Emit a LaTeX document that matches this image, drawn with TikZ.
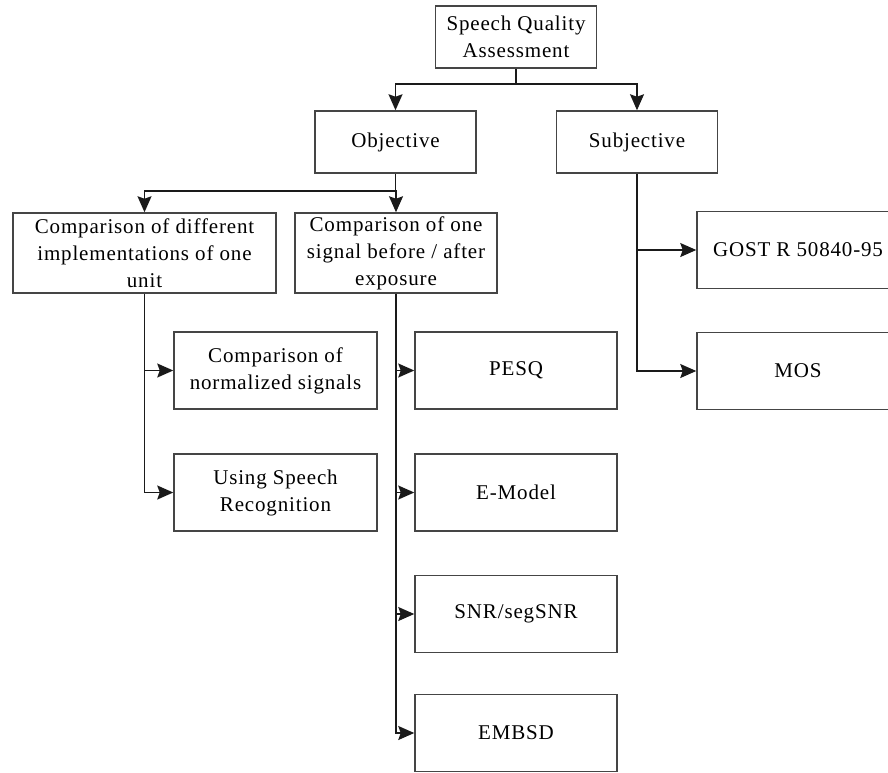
\documentclass[tikz,border=0pt]{standalone}
\usepackage{fontspec}
\setmainfont[LetterSpace=4]{Liberation Serif}
\usepackage{tikz}
\usepackage{xcolor}
\usetikzlibrary{arrows.meta}

\definecolor{boxEdge}{HTML}{454545}
\definecolor{linkLine}{HTML}{1A1A1A}

\begin{document}
\begin{tikzpicture}
[
x=1pt, y=-1pt,
every node/.style={
	draw=boxEdge,
	line width=1.5pt,
	rectangle,
	align=center,
	inner sep=0pt,
	text=black,
	font=\fontsize{21}{27}\selectfont},
topBox/.style={
	minimum width=161pt,
	minimum height=62pt},
midBox/.style={
	minimum height=80pt},
leafBox/.style={
	minimum width=202pt,
	minimum height=77pt},
regLine/.style={
	draw=linkLine,
	line width=1.5pt},
regArr/.style={
	regLine,
	-{Stealth[length=16pt,width=14pt,inset=2.5pt]}}
]
\useasboundingbox (0,0) rectangle (888,772);

%top levels
\node[topBox] (sqa) at (516,37) {Speech Quality\\Assessment};
\node[topBox] (obj) at (395.5,142) {Objective};
\node[topBox] (subj) at (637,142) {Subjective};

%objective kinds
\node[midBox, minimum width=263pt] (cdi) at (144.5,253) {Comparison of different\\implementations of one\\unit};
\node[midBox, minimum width=202pt] (cos) at (396,253) {Comparison of one\\signal before / after\\exposure};

%left column
\node[leafBox, minimum width=203pt] (norm) at (275.5,370.5) {Comparison of\\normalized signals};
\node[leafBox, minimum width=203pt] (usr) at (275.5,492.5) {Using Speech\\Recognition};

%right column
\node[leafBox] (pesq) at (516,370.5) {PESQ};
\node[leafBox] (emod) at (516,492.5) {E-Model};
\node[leafBox] (snr) at (516,614) {SNR/segSNR};
\node[leafBox] (embsd) at (516,733) {EMBSD};

%subjective column
\node[leafBox] (gost) at (798,250) {GOST R 50840-95};
\node[leafBox] (mos) at (798,371) {MOS};

%first split
\draw[regLine] (sqa.south) -- ++(0,15) coordinate (s1);
\draw[regArr] (s1) -| (obj.north);
\draw[regArr] (s1) -| (subj.north);

%objective split
\draw[regLine] (obj.south) -- ++(0,17) coordinate (s2);
\draw[regArr] (s2) -| (cdi.north);
\draw[regArr] (s2) -| (cos.north);

%different implementations
\draw[regArr] (cdi.south) |- (norm.west);
\draw[regArr] (cdi.south) |- (usr.west);

%one signal
\draw[regArr] (cos.south) |- (pesq.west);
\draw[regArr] (cos.south) |- (emod.west);
\draw[regArr] (cos.south) |- (snr.west);
\draw[regArr] (cos.south) |- (embsd.west);

%subjective
\draw[regArr] (subj.south) |- (gost.west);
\draw[regArr] (subj.south) |- (mos.west);

\end{tikzpicture}
\end{document}
